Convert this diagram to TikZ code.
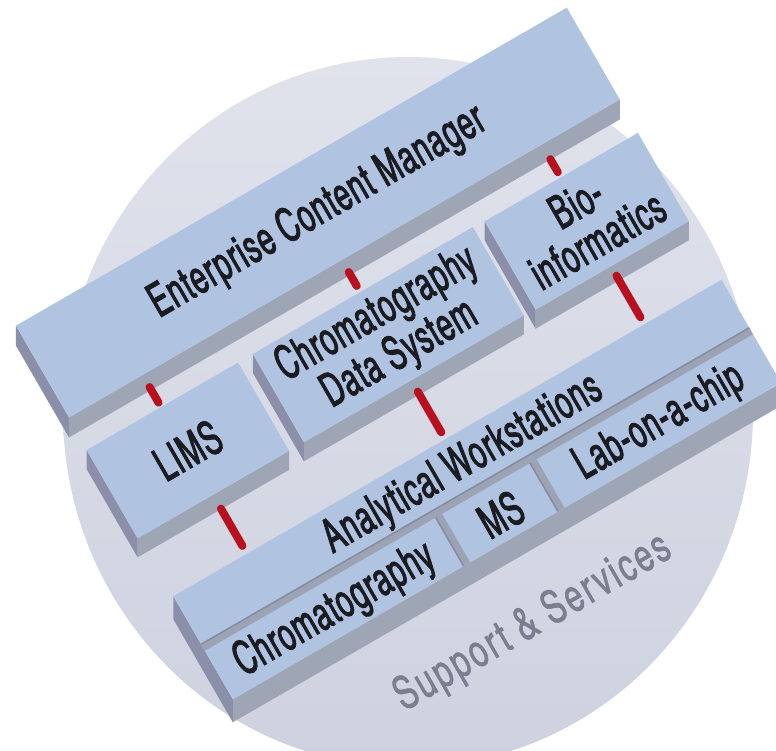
\documentclass[tikz,border=0pt]{standalone}
\usepackage{fontspec}
\setmainfont{texgyreheroscn}[Extension=.otf, UprightFont=*-regular, BoldFont=*-bold, FakeStretch=0.73, FakeBold=2.0, LetterSpace=2.5]
\newfontfamily\servicefont{texgyreheroscn}[Extension=.otf, UprightFont=*-regular, FakeStretch=0.84, FakeBold=1.2, LetterSpace=5.5]
\usetikzlibrary{calc}

\definecolor{discA}{HTML}{E0E3EC}
\definecolor{discB}{HTML}{CED2DF}
\definecolor{slabtop}{HTML}{B0C4E2}
\definecolor{slabfront}{HTML}{9EA5B5}
\definecolor{slabend}{HTML}{8C8FAA}
\definecolor{groovefill}{HTML}{9CA3B4}
\definecolor{grooveedge}{HTML}{858CA0}
\definecolor{linkred}{HTML}{B8101E}
\definecolor{inktext}{HTML}{1B1B22}
\definecolor{servicegray}{HTML}{7B7E8F}

\tikzset{
  topface/.style={fill=slabtop},
  frontface/.style={fill=slabfront},
  endface/.style={fill=slabend},
  groove/.style={fill=groovefill},
  link/.style={draw=linkred, line width=8pt, line cap=round},
  boxlabel/.style={text=inktext, rotate=30, align=center, inner sep=0pt,
    font=\fontsize{47}{43}\selectfont},
  servicelabel/.style={text=servicegray, rotate=30, inner sep=0pt,
    font=\servicefont\fontsize{46}{48}\selectfont}
}

% slab: name, a, b, length, width, thickness  (a,b in the 30 degree frame)
\newcommand\drawslab[6]{%
  \begin{scope}[rotate=30]
    \coordinate (#1-nw) at (#2,#3);
    \coordinate (#1-ne) at ({#2+#4},#3);
    \coordinate (#1-se) at ({#2+#4},{#3+#5});
    \coordinate (#1-sw) at (#2,{#3+#5});
    \coordinate (#1-c) at ({#2+#4/2},{#3+#5/2});
  \end{scope}
  \fill[frontface] (#1-sw) -- (#1-se) -- ([yshift=-#6pt]#1-se) -- ([yshift=-#6pt]#1-sw) -- cycle;
  \fill[endface] (#1-nw) -- (#1-sw) -- ([yshift=-#6pt]#1-sw) -- ([yshift=-#6pt]#1-nw) -- cycle;
  \fill[topface] (#1-nw) -- (#1-ne) -- (#1-se) -- (#1-sw) -- cycle;
}

\begin{document}
\begin{tikzpicture}[x=1pt,y=-1pt]
\useasboundingbox (0,0) rectangle (776,750);
\clip (0,0) rectangle (776,750);

% background disc
\shade[top color=discA, bottom color=discB] (408,412) ellipse[x radius=345, y radius=355];

% slabs
\drawslab{ecm}{-149}{290}{636}{106}{20}
\drawslab{lims}{-150}{433}{175}{102}{19}
\drawslab{cds}{42}{433}{254}{102}{19}
\drawslab{bio}{309}{434}{177}{102}{19}
\drawslab{aw}{-148}{603}{633}{119}{23}

% grooves on the workstation slab
\begin{scope}[rotate=30]
  \fill[groove] (-148,658) rectangle (485,666);
  \draw[grooveedge, line width=1.5pt] (-148,658.5) -- (485,658.5);
  \fill[groove] (118,666) rectangle (126,722);
  \draw[grooveedge, line width=1.5pt] (118.5,666) -- (118.5,722);
  \fill[groove] (227,666) rectangle (235,722);
  \draw[grooveedge, line width=1.5pt] (227.5,666) -- (227.5,722);
  \coordinate (chrom-c) at (-15,696);
  \coordinate (ms-c) at (176.5,696);
  \coordinate (loc-c) at (360,696);
  \coordinate (aw-top-c) at (168.5,634);
  \coordinate (svc-c) at (150,806);
  % connector ends
  \coordinate (ecm-l) at (-64,410);
  \coordinate (lims-t) at (-64,428);
  \coordinate (ecm-m) at (166,410);
  \coordinate (cds-t) at (166,426);
  \coordinate (ecm-r) at (397,413);
  \coordinate (bio-t) at (397,428);
  \coordinate (lims-b) at (-63,551);
  \coordinate (aw-l) at (-63,594);
  \coordinate (cds-b) at (166,548);
  \coordinate (aw-m) at (166,595);
  \coordinate (bio-b) at (396,547);
  \coordinate (aw-r) at (396,595);
\end{scope}

% connectors
\draw[link] (ecm-l) -- (lims-t);
\draw[link] (ecm-m) -- (cds-t);
\draw[link] (ecm-r) -- (bio-t);
\draw[link] (lims-b) -- (aw-l);
\draw[link] (cds-b) -- (aw-m);
\draw[link] (bio-b) -- (aw-r);

% labels
\node[boxlabel] (ecmtext) at (ecm-c) {Enterprise Content Manager};
\node[boxlabel] (limstext) at (lims-c) {LIMS};
\node[boxlabel] (cdstext) at (cds-c) {Chromatography\\Data System};
\node[boxlabel] (biotext) at (bio-c) {Bio-\\informatics};
\node[boxlabel] (awtext) at (aw-top-c) {Analytical Workstations};
\node[boxlabel] (chromtext) at (chrom-c) {Chromatography};
\node[boxlabel] (mstext) at (ms-c) {MS};
\node[boxlabel] (loctext) at (loc-c) {Lab-on-a-chip};
\node[servicelabel] (svctext) at (svc-c) {Support \& Services};
\end{tikzpicture}
\end{document}
